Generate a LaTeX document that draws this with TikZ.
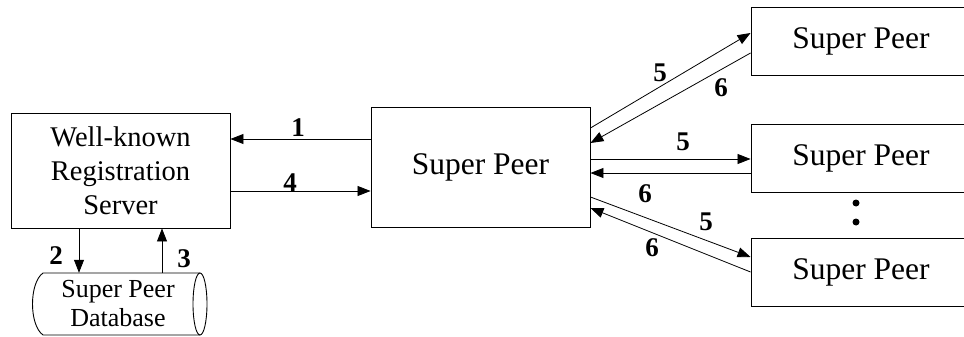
\documentclass[tikz,border=0pt]{standalone}
\usepackage{fontspec}
\setmainfont{Liberation Serif}
\usetikzlibrary{arrows.meta}

\tikzset{
  box/.style={draw, line width=0.9pt, inner sep=0pt, align=center},
  peerbox/.style={box, minimum width=220pt, minimum height=68pt,
    font=\fontsize{31.5}{36}\selectfont},
  arr/.style={line width=0.8pt, -{Triangle[length=13pt,width=10pt]}},
  num/.style={font=\fontsize{27}{30}\selectfont\bfseries, inner sep=0pt},
  dot/.style={circle, fill=black, inner sep=0pt, minimum size=7pt}
}

\begin{document}
\begin{tikzpicture}[x=1pt, y=-1pt]
  \useasboundingbox (0,0) rectangle (964,337);
  \clip (0,0) rectangle (964,337);

  % registration server
  \node[box, minimum width=219pt, minimum height=115pt,
        font=\fontsize{28.5}{34}\selectfont] (server) at (120.5,170.5)
        {Well-known\\Registration\\Server};

  % database drawn as a horizontal cylinder
  \node[inner sep=0pt, minimum width=160pt, minimum height=62pt,
        align=center, font=\fontsize{26}{29}\selectfont] (db) at (118,304)
        {Super Peer\\Database};
  \draw[line width=0.9pt]
    (43,273) -- (200,273)
    (43,335) -- (200,335)
    (43,273) .. controls (29,283) and (29,325) .. (43,335);
  \draw[line width=0.9pt] (200,304) ellipse [x radius=7, y radius=31];

  % central super peer
  \node[box, minimum width=219pt, minimum height=120pt,
        font=\fontsize{31.5}{36}\selectfont] (sp) at (480.5,167) {Super Peer};

  % neighbouring super peers
  \node[peerbox] (r1) at (861,41) {Super Peer};
  \node[peerbox] (r2) at (861,158) {Super Peer};
  \node[peerbox] (r3) at (861,272) {Super Peer};
  \node[dot] (d1) at (856,203) {};
  \node[dot] (d2) at (856,222) {};

  % registration exchange
  \draw[arr] (sp.west |- 0,139) -- (server.east |- 0,139);
  \draw[arr] (server.east |- 0,191) -- (sp.west |- 0,191);
  \draw[arr] (server.south -| 79,0) -- (db.north -| 79,0);
  \draw[arr] (db.north -| 162,0) -- (server.south -| 162,0);
  \node[num] (n1) at (298,128) {1};
  \node[num] (n4) at (290,183) {4};
  \node[num] (n2) at (56,256) {2};
  \node[num] (n3) at (184,259) {3};

  % queries to the other super peers
  \draw[arr] (sp.east |- 0,128) -- (r1.west |- 0,33);
  \draw[arr] (r1.west |- 0,53) -- (sp.east |- 0,143);
  \draw[arr] (sp.east |- 0,159) -- (r2.west |- 0,159);
  \draw[arr] (r2.west |- 0,173) -- (sp.east |- 0,173);
  \draw[arr] (sp.east |- 0,197) -- (r3.west |- 0,257);
  \draw[arr] (r3.west |- 0,272) -- (sp.east |- 0,208);
  \node[num] (t5) at (660,73) {5};
  \node[num] (t6) at (721,88) {6};
  \node[num] (m5) at (683,142) {5};
  \node[num] (m6) at (645,194) {6};
  \node[num] (b5) at (706,222) {5};
  \node[num] (b6) at (652,248) {6};
\end{tikzpicture}
\end{document}
